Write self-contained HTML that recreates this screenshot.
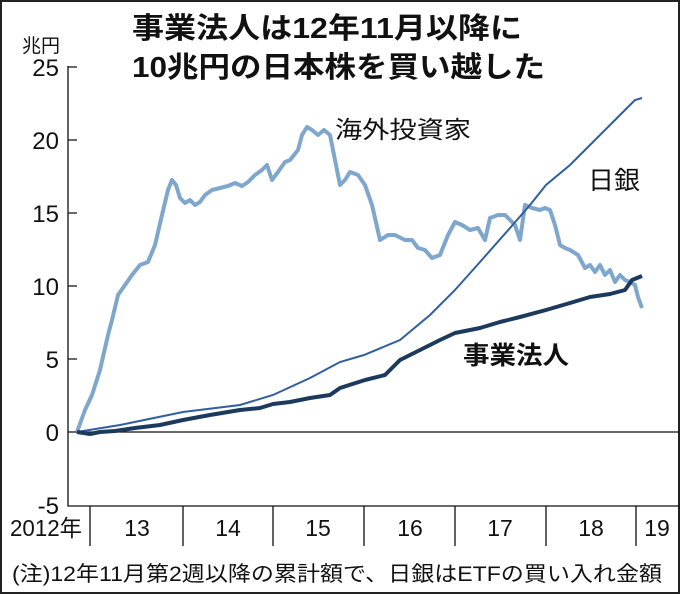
<!DOCTYPE html>
<html><head><meta charset="utf-8"><style>
body{margin:0;background:#fff}
svg{display:block;font-family:"Liberation Sans","Noto Sans CJK JP",sans-serif}
</style></head><body>
<svg width="680" height="594" viewBox="0 0 680 594">
<rect x="1" y="1" width="678" height="592" fill="#fff" stroke="#222" stroke-width="2"/>
<text x="132" y="38" font-size="29" font-weight="bold" fill="#111" textLength="390" lengthAdjust="spacingAndGlyphs">事業法人は12年11月以降に</text>
<text x="132" y="77" font-size="29" font-weight="bold" fill="#111" textLength="413" lengthAdjust="spacingAndGlyphs">10兆円の日本株を買い越した</text>
<text x="22" y="52" font-size="19" fill="#111">兆円</text>
<g font-size="24" fill="#111" text-anchor="end">
<text x="59" y="76">25</text><text x="59" y="149">20</text><text x="59" y="222">15</text>
<text x="59" y="295">10</text><text x="59" y="368">5</text><text x="59" y="441">0</text><text x="59" y="514">-5</text>
</g>
<g stroke="#111" stroke-width="1.3" fill="none">
<path d="M68 66V506H680"/>
<path d="M68 67h9M68 140h9M68 213h9M68 286h9M68 359h9"/>
<path d="M68 432H680"/>
<path d="M90 506v40M183 506v40M273 506v40M364 506v40M455 506v40M546 506v40M636 506v40"/>
</g>
<g font-size="23" fill="#111" text-anchor="middle">
<text x="46" y="536" textLength="72" lengthAdjust="spacingAndGlyphs">2012年</text><text x="137" y="536">13</text><text x="228" y="536">14</text>
<text x="318" y="536">15</text><text x="410" y="536">16</text><text x="500" y="536">17</text>
<text x="591" y="536">18</text><text x="657" y="536">19</text>
</g>
<text x="12" y="581" font-size="21" fill="#111" textLength="650" lengthAdjust="spacingAndGlyphs">(注)12年11月第2週以降の累計額で、日銀はETFの買い入れ金額</text>
<polyline fill="none" stroke="#7fa6cc" stroke-width="4" stroke-linejoin="round" points="77,432 85,410 92,395 100,370 108,335 112,320 118,295 125,285 132,275 140,265 148,262 155,245 162,215 168,190 172,180 176,185 180,198 185,203 190,200 195,205 200,202 205,195 212,190 220,188 228,186 235,183 242,186 248,182 255,175 262,170 267,165 272,180 278,172 285,162 290,160 298,150 302,135 307,127 312,130 318,135 324,130 330,135 335,160 340,185 345,180 350,172 358,175 365,185 372,205 380,240 388,235 395,235 405,240 412,240 418,248 425,250 432,258 440,255 448,235 455,222 462,225 470,230 478,228 485,240 490,218 498,215 505,215 510,220 515,225 520,240 525,205 532,208 540,210 545,208 550,210 555,225 560,245 565,248 570,250 578,255 585,268 590,265 595,272 600,265 605,275 610,270 615,282 620,275 625,280 630,282 635,285 638,297 642,308"/>
<polyline fill="none" stroke="#2f5f9f" stroke-width="2" points="77,432 120,425 183,412 240,405 273,395 310,378 340,362 364,355 400,340 430,315 455,290 480,262 510,228 530,205 546,185 570,165 590,145 610,125 625,110 635,100 642,98"/>
<polyline fill="none" stroke="#1b3a5e" stroke-width="4" stroke-linejoin="round" points="77,432 90,434 100,432 115,431 135,428 160,425 183,420 210,415 240,410 260,408 273,404 290,402 310,398 330,395 340,388 365,380 385,375 400,360 420,350 440,340 455,333 480,328 500,322 520,317 546,310 570,303 590,297 610,294 625,290 632,280 642,276"/>
<text x="335" y="138" font-size="24" fill="#111" textLength="136" lengthAdjust="spacingAndGlyphs">海外投資家</text>
<text x="588" y="189" font-size="25" fill="#111" textLength="52" lengthAdjust="spacingAndGlyphs">日銀</text>
<text x="463" y="364" font-size="25" font-weight="bold" fill="#111" textLength="106" lengthAdjust="spacingAndGlyphs">事業法人</text>
</svg>
</body></html>
